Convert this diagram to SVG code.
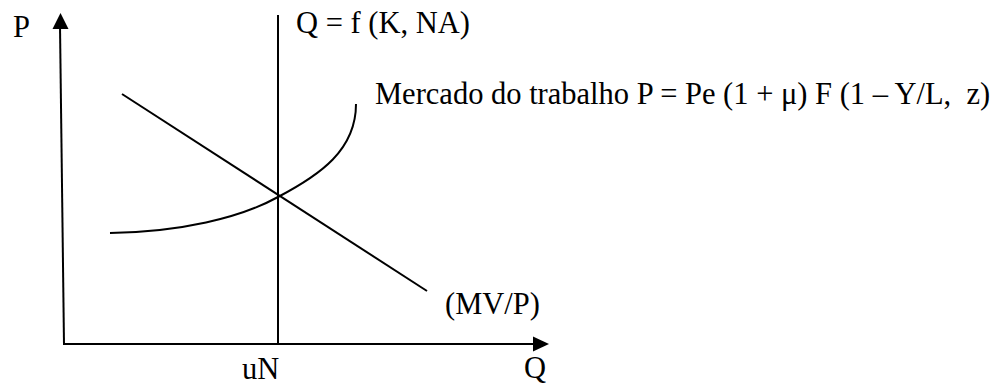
<svg xmlns="http://www.w3.org/2000/svg" width="999" height="385" viewBox="0 0 999 385">
<style>
.ln{stroke:#000;stroke-width:2;fill:none}
.t{font-family:"Liberation Serif","Times New Roman",serif;font-size:30.5px;fill:#000;white-space:pre}
</style>
<rect width="999" height="385" fill="#fff"/>
<g id="connectors">
<line class="ln" x1="60" y1="26" x2="64" y2="344"/>
<polygon points="60.5,13 52.5,29 68.5,29" fill="#000"/>
<line class="ln" x1="63" y1="344" x2="536" y2="344"/>
<polygon points="549,344 533,336.5 533,351.5" fill="#000"/>
<line class="ln" x1="278" y1="15" x2="278" y2="344"/>
<line class="ln" x1="122" y1="94" x2="427" y2="291"/>
<path class="ln" d="M110,233 C180,232 240,218 278,197 C320,175 356,150 356,104"/>
</g>
<g id="labels">
<text class="t" x="13" y="37">P</text>
<text class="t" x="296" y="33">Q = f (K, NA)</text>
<text class="t" x="375" y="104" xml:space="preserve">Mercado do trabalho P = Pe (1 + μ) F (1 – Y/L,  z)</text>
<text class="t" x="445" y="314">(MV/P)</text>
<text class="t" x="242" y="379">uN</text>
<text class="t" x="524" y="378">Q</text>
</g>
</svg>
